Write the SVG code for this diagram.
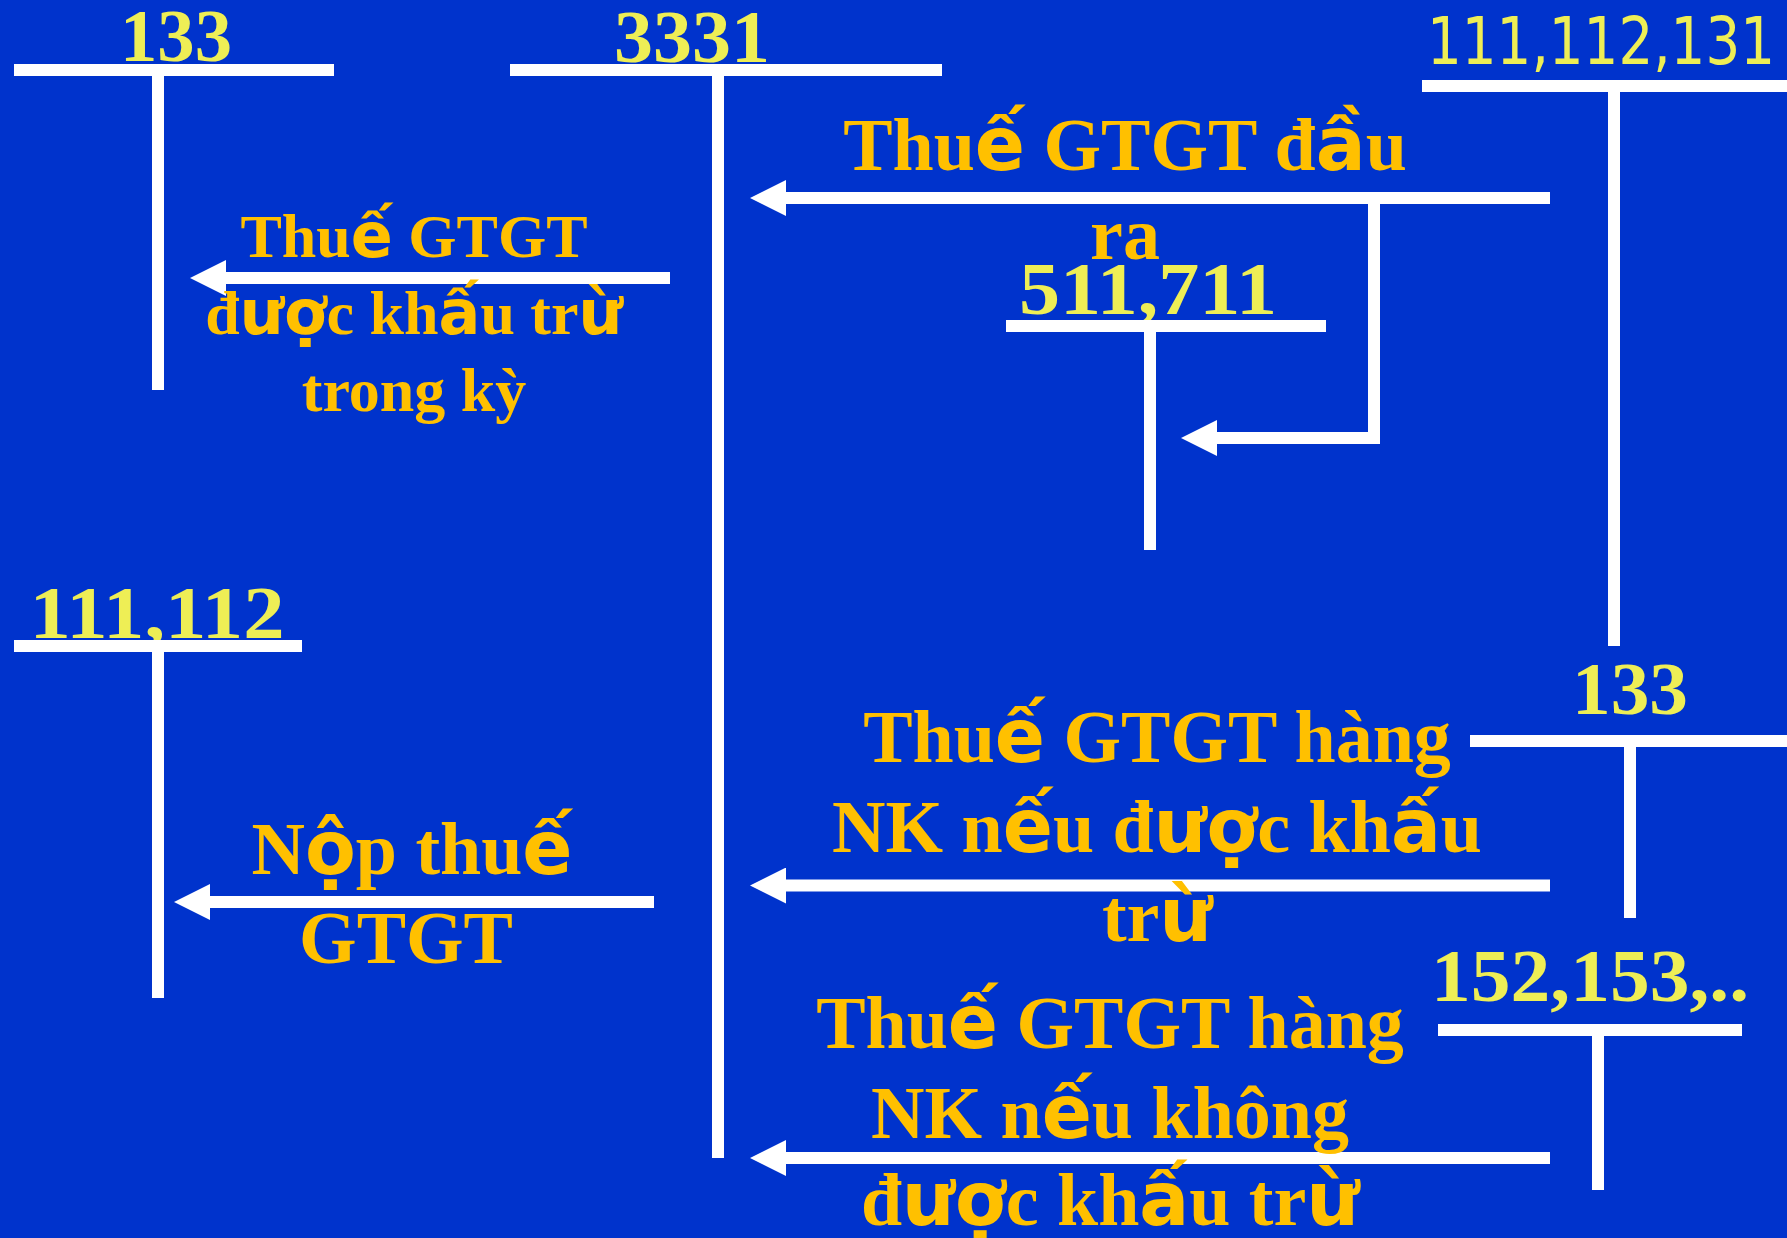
<svg xmlns="http://www.w3.org/2000/svg" width="1787" height="1238" viewBox="0 0 1787 1238">
<defs>
<style>
.bar{fill:#ffffff}
.acc{font-family:"Liberation Serif","Times New Roman",serif;font-weight:bold;font-size:74px;fill:#EEEE55;text-anchor:middle}
.accs{font-family:"DejaVu Sans Condensed","DejaVu Sans",sans-serif;font-size:65px;fill:#EEEE55}
.lbl{font-family:"Liberation Serif","Times New Roman",serif;font-weight:bold;font-size:74px;fill:#FFC000;text-anchor:middle}
.sm{font-size:62px}
.f{font-family:"DejaVu Sans",sans-serif}
.con{fill:none;stroke:#ffffff;stroke-width:12;marker-end:url(#ah)}
</style>
<marker id="ah" markerUnits="userSpaceOnUse" markerWidth="36" markerHeight="36" viewBox="0 0 36 36" refX="0" refY="18" orient="auto">
<path d="M0,0 L36,18 L0,36 z" fill="#ffffff"/>
</marker>
</defs>
<rect x="0" y="0" width="1787" height="1238" fill="#0033CC"/>

<g id="acc-133-left">
<text class="acc" x="176" y="61" textLength="112" lengthAdjust="spacingAndGlyphs">133</text>
<rect class="bar" x="14" y="64" width="320" height="12"/>
<rect class="bar" x="152" y="76" width="12" height="314"/>
</g>
<g id="acc-3331">
<text class="acc" x="692" y="62" textLength="156" lengthAdjust="spacingAndGlyphs">3331</text>
<rect class="bar" x="510" y="64" width="432" height="12"/>
<rect class="bar" x="712" y="76" width="12" height="1082"/>
</g>
<g id="acc-111-112-131">
<text class="accs" x="1427" y="64" textLength="348" lengthAdjust="spacingAndGlyphs">111,112,131</text>
<rect class="bar" x="1422" y="80" width="365" height="12"/>
<rect class="bar" x="1608" y="92" width="12" height="554"/>
</g>
<g id="acc-511-711">
<text class="acc" x="1148" y="314" textLength="258" lengthAdjust="spacingAndGlyphs">511,711</text>
<rect class="bar" x="1006" y="320" width="320" height="12"/>
<rect class="bar" x="1144" y="332" width="12" height="218"/>
</g>
<g id="acc-111-112">
<text class="acc" x="157" y="638" textLength="255" lengthAdjust="spacingAndGlyphs">111,112</text>
<rect class="bar" x="14" y="640" width="288" height="12"/>
<rect class="bar" x="152" y="652" width="12" height="346"/>
</g>
<g id="acc-133-right">
<text class="acc" x="1630" y="714" textLength="116" lengthAdjust="spacingAndGlyphs">133</text>
<rect class="bar" x="1470" y="735" width="317" height="12"/>
<rect class="bar" x="1624" y="747" width="12" height="171"/>
</g>
<g id="acc-152-153">
<text class="acc" x="1590" y="1001" textLength="318" lengthAdjust="spacingAndGlyphs">152,153,..</text>
<rect class="bar" x="1438" y="1024" width="304" height="12"/>
<rect class="bar" x="1592" y="1036" width="12" height="154"/>
</g>

<g id="connectors">
<path class="con" d="M1550,198 H786"/>
<path class="con" d="M1374,204 V438 H1217"/>
<path class="con" d="M670,278 H226"/>
<path class="con" d="M654,902 H210"/>
<path class="con" d="M1550,885.5 H786"/>
<path class="con" d="M1550,1158 H786"/>
</g>

<g id="label-dau-ra">
<text class="lbl" x="1125" y="170">Thu<tspan class="f">ế</tspan> GTGT đ<tspan class="f">ầ</tspan>u</text>
<text class="lbl" x="1125" y="259">ra</text>
</g>
<g id="label-khau-tru-trong-ky">
<text class="lbl sm" x="414" y="257">Thu<tspan class="f">ế</tspan> GTGT</text>
<text class="lbl sm" x="414" y="334">đ<tspan class="f">ượ</tspan>c kh<tspan class="f">ấ</tspan>u tr<tspan class="f">ừ</tspan></text>
<text class="lbl sm" x="414" y="411">trong kỳ</text>
</g>
<g id="label-nop-thue">
<text class="lbl" x="412" y="874">N<tspan class="f">ộ</tspan>p thu<tspan class="f">ế</tspan></text>
<text class="lbl" x="406" y="963">GTGT</text>
</g>
<g id="label-nk-duoc">
<text class="lbl" x="1157" y="762">Thu<tspan class="f">ế</tspan> GTGT hàng</text>
<text class="lbl" x="1157" y="852">NK n<tspan class="f">ế</tspan>u đ<tspan class="f">ượ</tspan>c kh<tspan class="f">ấ</tspan>u</text>
<text class="lbl" x="1157" y="941">tr<tspan class="f">ừ</tspan></text>
</g>
<g id="label-nk-khong">
<text class="lbl" x="1110" y="1048">Thu<tspan class="f">ế</tspan> GTGT hàng</text>
<text class="lbl" x="1110" y="1138">NK n<tspan class="f">ế</tspan>u không</text>
<text class="lbl" x="1110" y="1225">đ<tspan class="f">ượ</tspan>c kh<tspan class="f">ấ</tspan>u tr<tspan class="f">ừ</tspan></text>
</g>
</svg>
